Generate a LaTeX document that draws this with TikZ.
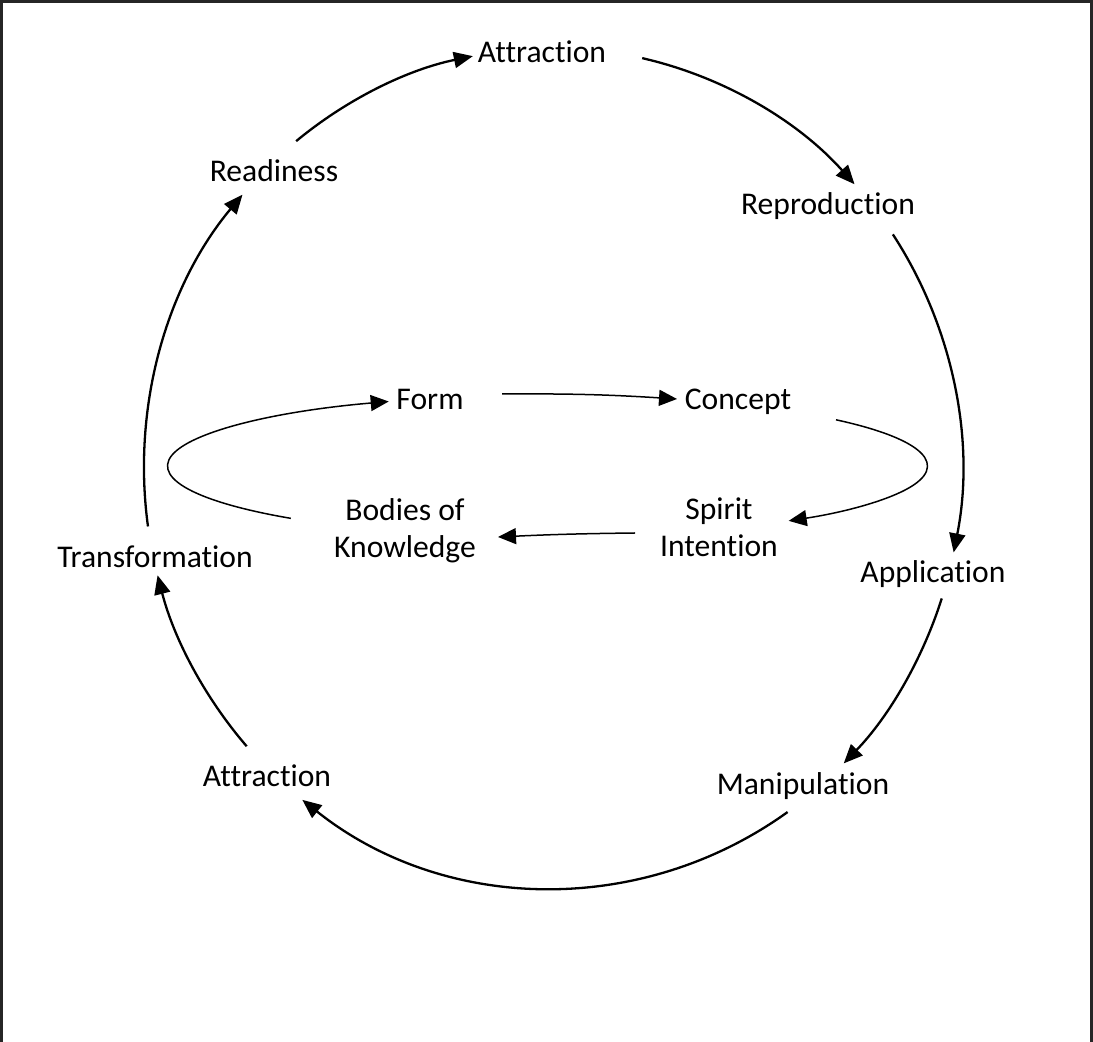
\documentclass[tikz,border=0pt]{standalone}
\usepackage{fontspec}
\setmainfont{Carlito}[Ligatures={NoCommon}]
\usetikzlibrary{arrows.meta,calc}
\begin{document}
\begin{tikzpicture}[x=1pt,y=1pt,
  lbl/.style={font=\fontsize{31.6}{37}\selectfont, inner sep=0pt, anchor=base, align=center},
  outerarc/.style={line width=2.3pt, -{Triangle[length=19pt,width=16pt]}},
  innerarc/.style={line width=1.5pt, -{Triangle[length=18pt,width=16pt]}},
  frameline/.style={line width=2.6pt, draw=black!85}]
\useasboundingbox (0,0) rectangle (1093,1042);
% frame
\draw[frameline] (1.3,0) -- (1.3,1040.5) -- (1091.5,1040.5) -- (1091.5,0);
% labels
\node[lbl] (att1)   at (542,979) {Attraction};
\node[lbl] (ready)  at (274,860) {Readiness};
\node[lbl] (repro)  at (828,827) {Reproduction};
\node[lbl] (form)   at (430,632) {Form};
\node[lbl] (concept) at (738,632) {Concept};
\node[lbl] (spirit) at (719,485) {Spirit\\Intention};
\node[lbl] (bodies) at (405,484) {Bodies of\\Knowledge};
\node[lbl] (trans)  at (155,474) {Transformation};
\node[lbl] (appl)   at (933,459) {Application};
\node[lbl] (att2)   at (267,255) {Attraction};
\node[lbl] (manip)  at (803,247) {Manipulation};
% centres of the two loops
\coordinate (oc) at (553,574);
\coordinate (ic) at (547.5,576);
% outer loop
\draw[outerarc] ($(oc)+(128.9:409 and 420)$) arc[start angle=128.9, end angle=101.3, x radius=409, y radius=420];
\draw[outerarc] ($(oc)+(77.4:409 and 420)$) arc[start angle=77.4, end angle=42.5, x radius=409, y radius=420];
\draw[outerarc] ($(oc)+(33.8:409 and 420)$) arc[start angle=33.8, end angle=-11.6, x radius=409, y radius=420];
\draw[outerarc] ($(oc)+(-18.1:409 and 420)$) arc[start angle=-18.1, end angle=-44.7, x radius=409, y radius=420];
\draw[outerarc] ($(oc)+(-55:409 and 420)$) arc[start angle=-55, end angle=-127.8, x radius=409, y radius=420];
\draw[outerarc] ($(oc)+(-138.5:409 and 420)$) arc[start angle=-138.5, end angle=-165.2, x radius=409, y radius=420];
\draw[outerarc] ($(oc)+(188:409 and 420)$) arc[start angle=188, end angle=139.4, x radius=409, y radius=420];
% inner loop
\coordinate (formout) at (502,648);
\coordinate (conceptin) at (677,643);
\coordinate (spiritout) at (635,509);
\coordinate (bodiesin) at (498,505);
\draw[innerarc] (formout) to[bend left=2] (conceptin);
\draw[innerarc] ($(ic)+(40.6:380 and 71)$) arc[start angle=40.6, end angle=-50.6, x radius=380, y radius=71];
\draw[innerarc] (spiritout) to[bend right=1] (bodiesin);
\draw[innerarc] ($(ic)+(227.5:380 and 71)$) arc[start angle=227.5, end angle=114.7, x radius=380, y radius=71];
\end{tikzpicture}
\end{document}
